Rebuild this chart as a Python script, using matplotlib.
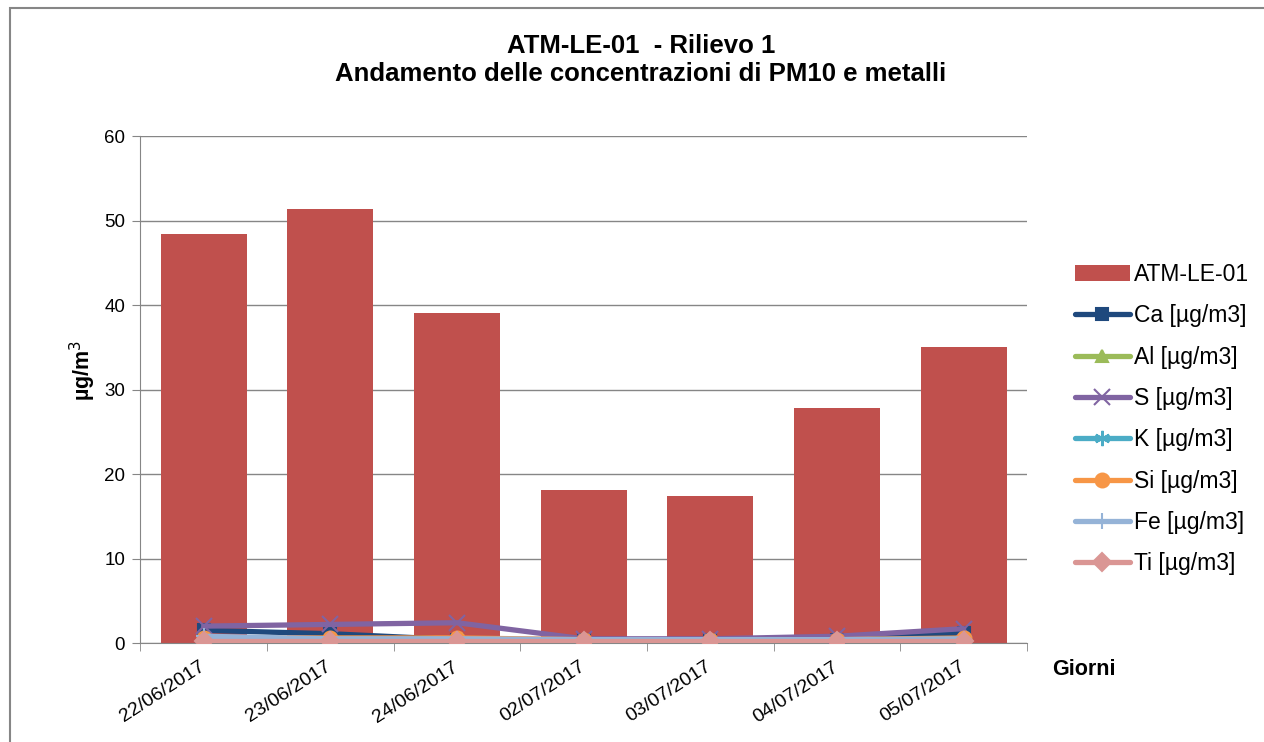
import matplotlib
matplotlib.use("Agg")
import matplotlib.pyplot as plt
from matplotlib.patches import Rectangle
from matplotlib.transforms import ScaledTranslation
import numpy as np

plt.rcParams['font.family'] = ['Liberation Sans', 'DejaVu Sans']

dates = ["22/06/2017", "23/06/2017", "24/06/2017", "02/07/2017",
         "03/07/2017", "04/07/2017", "05/07/2017"]
pm10 = [48.4, 51.4, 39.1, 18.1, 17.4, 27.8, 35.0]
ca = [1.5, 1.1, 0.4, 0.3, 0.3, 0.3, 1.2]
al = [0.1, 0.1, 0.1, 0.1, 0.1, 0.1, 0.1]
s = [2.0, 2.2, 2.4, 0.5, 0.5, 0.8, 1.7]
k = [0.1, 0.1, 0.1, 0.1, 0.1, 0.1, 0.1]
si = [0.6, 0.6, 0.6, 0.4, 0.4, 0.4, 0.6]
fe = [0.8, 0.5, 0.5, 0.4, 0.4, 0.4, 0.5]
ti = [0.2, 0.2, 0.2, 0.2, 0.2, 0.2, 0.2]

series = [
    ("Ca [µg/m3]", ca, "#1F497D", "s", 9),
    ("Al [µg/m3]", al, "#9BBB59", "^", 9),
    ("S [µg/m3]", s, "#8064A2", "x", 11),
    ("K [µg/m3]", k, "#4BACC6", (6, 2, 0), 11),
    ("Si [µg/m3]", si, "#F79646", "o", 10),
    ("Fe [µg/m3]", fe, "#95B3D7", "+", 11),
    ("Ti [µg/m3]", ti, "#DA9694", "D", 9),
]

fig = plt.figure(figsize=(12.64, 7.42), dpi=100)
ax = fig.add_axes([0.111, 0.1334, 0.7015, 0.6833])

x = np.arange(len(dates))
ax.bar(x, pm10, width=0.68, color="#C0504D", label="ATM-LE-01", zorder=2)
for name, vals, col, mk, ms in series:
    ax.plot(x, vals, color=col, lw=3.8, marker=mk, markersize=ms,
            markeredgewidth=1.5, markeredgecolor=col, label=name, zorder=3,
            solid_capstyle='round')

ax.set_xlim(-0.5, len(dates) - 0.5)
ax.set_ylim(0, 60)
ax.set_yticks(range(0, 61, 10))
ax.yaxis.grid(True, color="#868686", lw=1)
ax.set_axisbelow(True)
for sp in ["top", "right"]:
    ax.spines[sp].set_visible(False)
for sp in ["left", "bottom"]:
    ax.spines[sp].set_color("#868686")
ax.set_xticks(x)
ax.set_xticklabels(dates, rotation=33, ha="right", rotation_mode="anchor", fontsize=14)
ax.tick_params(axis="x", length=0, pad=11)
offset = ScaledTranslation(-5 / 100, 0, fig.dpi_scale_trans)
for lbl in ax.get_xticklabels():
    lbl.set_transform(lbl.get_transform() + offset)
ax.set_xticks(np.arange(-0.5, len(dates)), minor=True)
ax.tick_params(axis="x", which="minor", length=6, color="#868686")
ax.tick_params(axis="y", length=6, color="#868686", labelsize=13.5, pad=5)

ax.set_ylabel("µg/m$^3$", fontsize=15.5, fontweight="bold")
ax.yaxis.set_label_coords(-0.048, 0.537)
fig.text(0.832, 0.09, "Giorni", fontsize=15.5, fontweight="bold")

fig.text(0.507, 0.919, "ATM-LE-01  - Rilievo 1\nAndamento delle concentrazioni di PM10 e metalli",
         ha="center", va="center", fontsize=18.5, fontweight="bold", linespacing=1.25)

handles, labels = ax.get_legend_handles_labels()
order = [7] + list(range(7)) if labels[0] != "ATM-LE-01" else list(range(8))
leg = fig.legend([handles[i] for i in order], [labels[i] for i in order],
                 loc="upper left", bbox_to_anchor=(0.843, 0.658), frameon=False,
                 fontsize=16.5, labelspacing=0.8, handlelength=2.4, handletextpad=0.17,
                 borderaxespad=0)

fig.add_artist(Rectangle((0.008, -0.05), 1.1, 1.039, transform=fig.transFigure,
                         fill=False, edgecolor="#868686", lw=1.5))

fig.savefig("out.png", dpi=100)
